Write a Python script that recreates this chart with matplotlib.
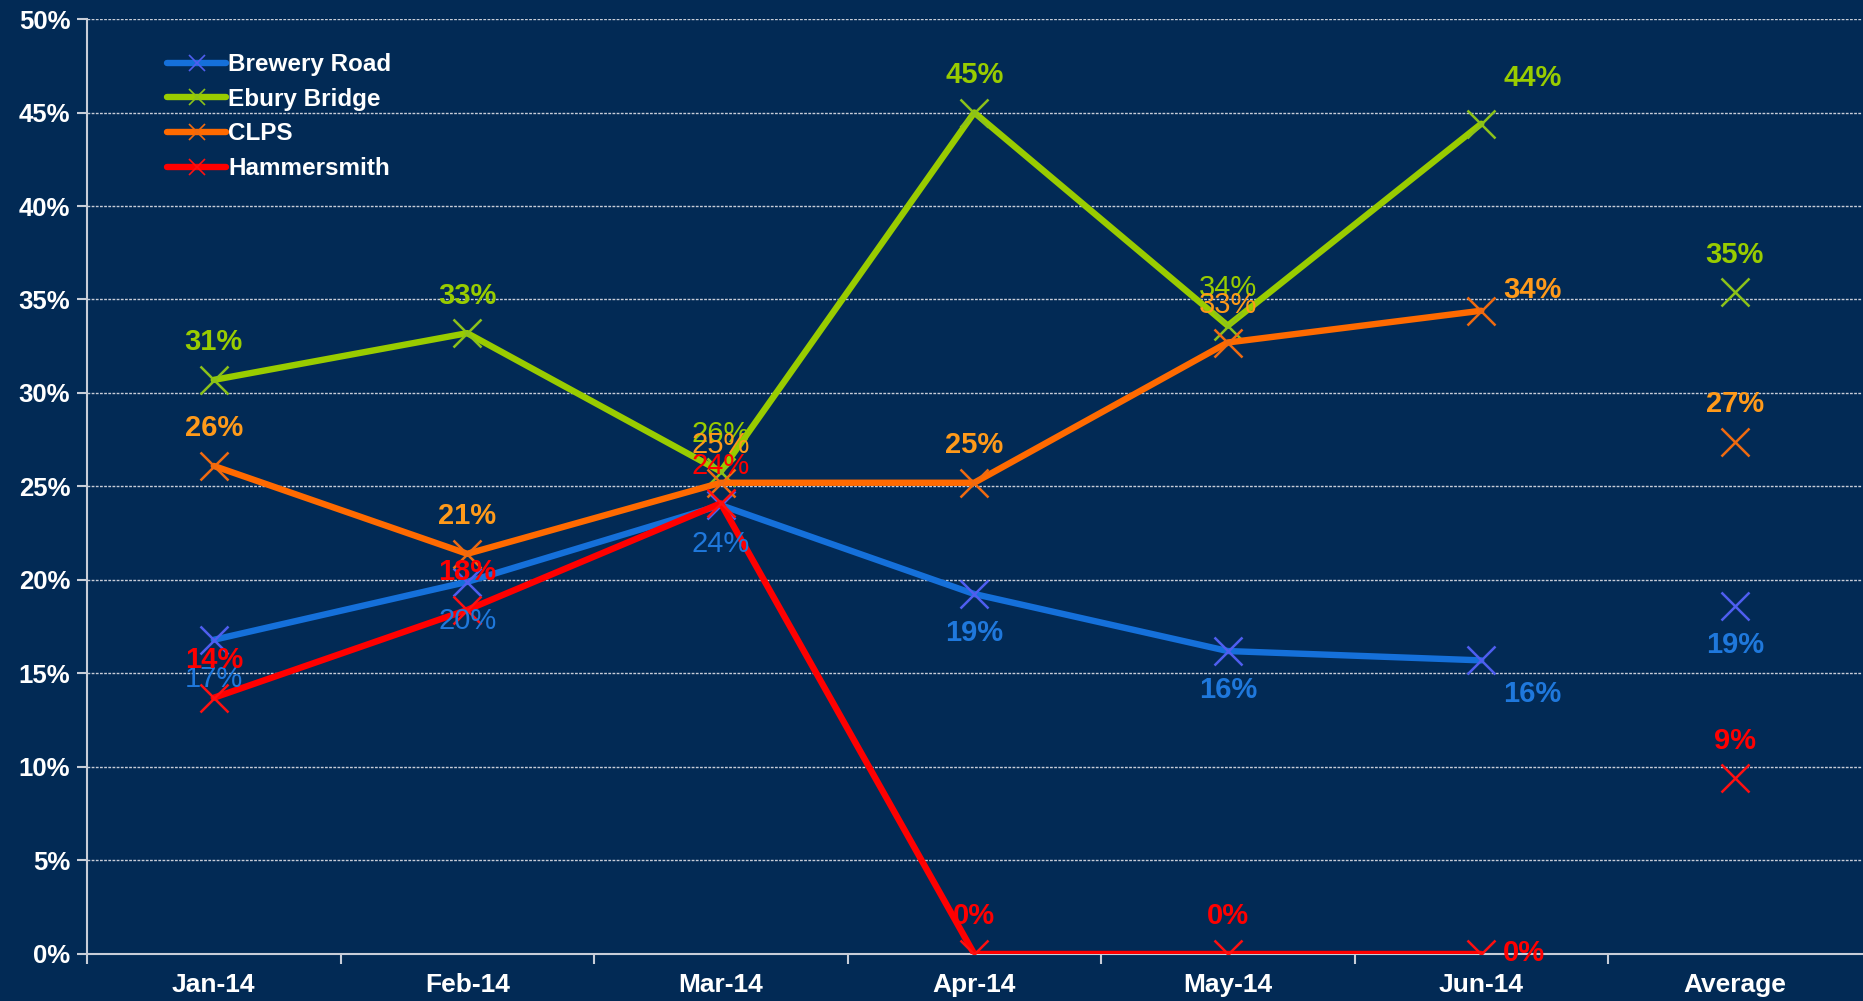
import matplotlib
matplotlib.use("Agg")
import matplotlib.pyplot as plt
from matplotlib.ticker import FixedLocator, PercentFormatter

plt.rcParams['font.family'] = ['Liberation Sans', 'DejaVu Sans']

categories = ["Jan-14", "Feb-14", "Mar-14", "Apr-14", "May-14", "Jun-14", "Average"]
brewery_road = [16.8, 19.9, 24.0, 19.25, 16.2, 15.7, 18.6]
ebury_bridge = [30.7, 33.2, 25.8, 45.0, 33.6, 44.4, 35.4]
clps = [26.1, 21.4, 25.2, 25.2, 32.7, 34.4, 27.4]
hammersmith = [13.7, 18.4, 24.1, 0.0, 0.0, 0.0, 9.4]
y_ticks = [0, 5, 10, 15, 20, 25, 30, 35, 40, 45, 50]

BG = "#022a55"
series = [
    ("Brewery Road", brewery_road, "#1570da", "#4f5ef0", "#1f78dc", "below"),
    ("Ebury Bridge", ebury_bridge, "#99cc00", "#8cc21a", "#99cc00", "above"),
    ("CLPS", clps, "#ff6a00", "#f06a10", "#ff9a1a", "above"),
    ("Hammersmith", hammersmith, "#ff0000", "#ff1010", "#ff0000", "above"),
]
# label weights per series (normal weight where labels overlapped in original)
weights = {
    "Brewery Road": ["normal", "normal", "normal", "bold", "bold", "bold", "bold"],
    "Ebury Bridge": ["bold", "bold", "normal", "bold", "normal", "bold", "bold"],
    "CLPS": ["bold", "bold", "normal", "bold", "normal", "bold", "bold"],
    "Hammersmith": ["bold", "bold", "normal", "bold", "bold", "bold", "bold"],
}
jun_offsets = {
    "Brewery Road": (37, -24),
    "Ebury Bridge": (37, 33),
    "CLPS": (37, 15),
    "Hammersmith": (31, 1),
}

fig = plt.figure(figsize=(18.63, 10.01), dpi=100, facecolor=BG)
ax = fig.add_axes([0.0467, 0.047, 0.9525, 0.934])
ax.set_facecolor(BG)

x = list(range(len(categories)))
n_line = 6
for name, vals, lc, mc, tc, pos in series:
    ax.plot(x[:n_line], vals[:n_line], color=lc, lw=4.6, solid_capstyle="round",
            zorder=3, label=name, marker="x", markersize=20, markeredgewidth=1.8,
            markeredgecolor=mc)
    ax.plot(x[n_line:], vals[n_line:], linestyle="none", marker="x",
            markersize=20, markeredgewidth=1.8, markeredgecolor=mc, zorder=3)
    for i, v in enumerate(vals):
        if i == 5:
            dx, dy = jun_offsets[name]
        else:
            dx, dy = 0, (27 if pos == "above" else -28)
        ax.annotate(f"{v:.0f}%", (x[i], v), xytext=(dx, dy), textcoords="offset points",
                    ha="center", va="center", color=tc, fontsize=21,
                    fontweight=weights[name][i], zorder=4)

ax.set_xlim(-0.5, len(categories) - 0.5)
ax.set_ylim(0, 50)
ax.yaxis.set_major_locator(FixedLocator(y_ticks))
ax.yaxis.set_major_formatter(PercentFormatter(decimals=0))
ax.grid(axis="y", color="#c8cdd8", linestyle=(0, (2, 1)), linewidth=1.0, zorder=1)
ax.set_axisbelow(True)

ax.set_xticks([i + 0.5 for i in range(len(categories) - 1)] + [-0.5])
ax.set_xticklabels([])
ax.set_xticks(x, minor=True)
ax.set_xticklabels(categories, minor=True)
ax.tick_params(axis="x", which="major", length=7, width=1.5, color="#c8cdd8", direction="out")
ax.tick_params(axis="x", which="minor", length=0, pad=14, labelsize=19, labelcolor="white")
for lab in ax.get_xticklabels(minor=True):
    lab.set_fontweight("bold")
ax.tick_params(axis="y", length=7, width=1.5, color="#c8cdd8", labelsize=18.5, labelcolor="white", pad=5)
for lab in ax.get_yticklabels():
    lab.set_fontweight("bold")

for side in ["top", "right"]:
    ax.spines[side].set_visible(False)
for side in ["left", "bottom"]:
    ax.spines[side].set_color("#c8cdd8")
    ax.spines[side].set_linewidth(1.5)

leg = ax.legend(loc="upper left", bbox_to_anchor=(0.033, 0.987), frameon=False,
                handlelength=2.4, handletextpad=0.1, labelspacing=0.48,
                prop={"weight": "bold", "size": 17.5})
for t in leg.get_texts():
    t.set_color("white")
for h in leg.legend_handles:
    h.set_markersize(12)
    h.set_markeredgewidth(1.2)

fig.savefig("out.png", dpi=100, facecolor=BG)
